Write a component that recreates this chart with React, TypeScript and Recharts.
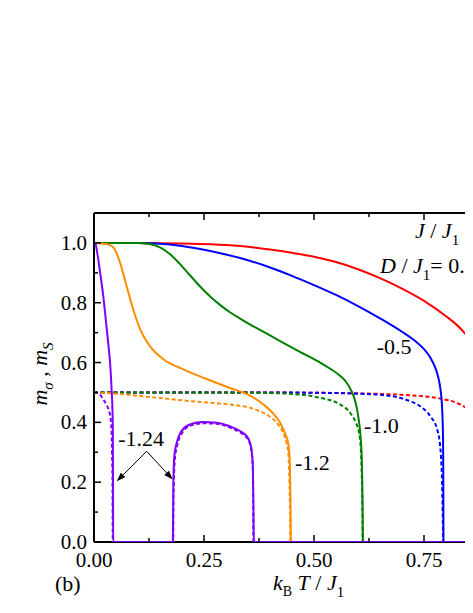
import React from "react";
import { LineChart, Line, XAxis, YAxis, ReferenceDot, ReferenceLine } from "recharts";

const FONT = "'Liberation Serif', 'Times New Roman', serif";

const xTicks = [0, 0.125, 0.25, 0.375, 0.5, 0.625, 0.75, 0.875, 1.0];
const yTicks = [0, 0.1, 0.2, 0.3, 0.4, 0.5, 0.6, 0.7, 0.8, 0.9, 1.0];

const redSolid = [
  [0, 1], [0.1, 1], [0.2, 0.998], [0.3, 0.993], [0.35, 0.987], [0.4, 0.978], [0.45, 0.967],
  [0.5, 0.954], [0.55, 0.936], [0.6, 0.912], [0.65, 0.882], [0.7, 0.847], [0.75, 0.806],
  [0.8, 0.755], [0.83, 0.718], [0.86, 0.665], [0.88, 0.615], [0.9, 0.54], [0.91, 0.45],
  [0.918, 0.3], [0.921, 0],
];
const redDashed = [
  [0, 0.5], [0.3, 0.5], [0.5, 0.499], [0.6, 0.497], [0.7, 0.492], [0.75, 0.487], [0.786, 0.48],
  [0.832, 0.46], [0.861, 0.432], [0.88, 0.4], [0.9, 0.33], [0.912, 0.22], [0.92, 0],
];
const blueSolid = [
  [0, 1], [0.1, 1], [0.143, 0.998], [0.2, 0.99], [0.25, 0.977], [0.3, 0.961], [0.35, 0.942],
  [0.4, 0.918], [0.45, 0.89], [0.5, 0.859], [0.55, 0.826], [0.6, 0.789], [0.65, 0.748],
  [0.7, 0.703], [0.73, 0.672], [0.75, 0.645], [0.765, 0.615], [0.775, 0.585], [0.782, 0.553],
  [0.787, 0.515], [0.79, 0.475], [0.792, 0.42], [0.7932, 0.35], [0.7938, 0.25], [0.7942, 0],
];
const blueDashed = [
  [0, 0.5], [0.4, 0.5], [0.55, 0.498], [0.6, 0.496], [0.65, 0.492], [0.695, 0.482], [0.72, 0.47],
  [0.741, 0.454], [0.764, 0.421], [0.78, 0.376], [0.786, 0.33], [0.789, 0.276], [0.791, 0.2],
  [0.7925, 0.1], [0.7935, 0],
];
const greenSolid = [
  [0, 1], [0.1, 1], [0.127, 0.996], [0.15, 0.985], [0.173, 0.962], [0.195, 0.93], [0.218, 0.892],
  [0.24, 0.856], [0.264, 0.821], [0.287, 0.792], [0.309, 0.768], [0.332, 0.747], [0.355, 0.727],
  [0.39, 0.699], [0.423, 0.672], [0.468, 0.636], [0.514, 0.6], [0.536, 0.58], [0.559, 0.556],
  [0.573, 0.535], [0.582, 0.514], [0.59, 0.488], [0.597, 0.45], [0.602, 0.405], [0.606, 0.35],
  [0.6085, 0.28], [0.6102, 0.15], [0.6112, 0],
];
const greenDashed = [
  [0, 0.5], [0.3, 0.5], [0.4, 0.498], [0.468, 0.493], [0.514, 0.482], [0.559, 0.46], [0.582, 0.432],
  [0.595, 0.399], [0.603, 0.36], [0.606, 0.32], [0.608, 0.25], [0.6095, 0.15], [0.6105, 0],
];
const orangeSolid = [
  [0, 1], [0.02, 0.998], [0.032, 0.995], [0.044, 0.985], [0.052, 0.963], [0.059, 0.935],
  [0.074, 0.856], [0.089, 0.778], [0.105, 0.711], [0.127, 0.655], [0.158, 0.611], [0.203, 0.577],
  [0.256, 0.545], [0.309, 0.515], [0.35, 0.493], [0.385, 0.46], [0.41, 0.425], [0.423, 0.399],
  [0.435, 0.36], [0.442, 0.325], [0.445, 0.265], [0.4465, 0.15], [0.4475, 0],
];
const orangeDashed = [
  [0, 0.5], [0.05, 0.496], [0.105, 0.488], [0.16, 0.48], [0.218, 0.471], [0.28, 0.464],
  [0.332, 0.455], [0.355, 0.449], [0.377, 0.437], [0.395, 0.424], [0.408, 0.41], [0.42, 0.39],
  [0.43, 0.365], [0.437, 0.335], [0.442, 0.29], [0.444, 0.209], [0.4455, 0.1], [0.446, 0],
];
const purpleSolid = [
  [0, 1], [0.003, 0.998], [0.007, 0.97], [0.014, 0.9], [0.021, 0.823], [0.027, 0.74],
  [0.033, 0.655], [0.037, 0.59], [0.04, 0.51], [0.042, 0.44], [0.0428, 0.376], [0.0433, 0.15],
  [0.0436, 0], [0.1792, 0], [0.1798, 0.1], [0.1805, 0.209], [0.1825, 0.287], [0.188, 0.332],
  [0.199, 0.371], [0.218, 0.393], [0.248, 0.401], [0.279, 0.399], [0.309, 0.387], [0.332, 0.371],
  [0.347, 0.354], [0.355, 0.33], [0.358, 0.309], [0.361, 0.253], [0.3625, 0.1], [0.3632, 0], [1, 0],
];
const purpleDashed = [
  [0, 0.5], [0.006, 0.499], [0.015, 0.49], [0.021, 0.477], [0.028, 0.46], [0.033, 0.443],
  [0.038, 0.41], [0.04, 0.365], [0.041, 0.3], [0.042, 0.2], [0.0427, 0], [0.18, 0], [0.1808, 0.15],
  [0.1815, 0.2], [0.184, 0.28], [0.19, 0.328], [0.2, 0.364], [0.218, 0.388], [0.248, 0.397],
  [0.279, 0.395], [0.309, 0.383], [0.332, 0.366], [0.347, 0.349], [0.355, 0.325], [0.358, 0.303],
  [0.3612, 0.24], [0.3622, 0],
];

const toPts = (a: number[][]) => a.map(([t, m]) => ({ t, m }));

const RED = "#ff0000";
const BLUE = "#0000ff";
const GREEN = "#008000";
const ORANGE = "#ff8c00";
const PURPLE = "#8000ff";

const dashedSeries = [
  { data: redDashed, color: RED },
  { data: blueDashed, color: BLUE },
  { data: greenDashed, color: GREEN },
  { data: orangeDashed, color: ORANGE },
  { data: purpleDashed, color: PURPLE },
];
const solidSeries = [
  { data: redSolid, color: RED },
  { data: blueSolid, color: BLUE },
  { data: greenSolid, color: GREEN },
  { data: orangeSolid, color: ORANGE },
  { data: purpleSolid, color: PURPLE },
];

const YTick = (props: any) => {
  const { x, y, payload } = props;
  const v = payload.value;
  const major = Math.round(v * 10) % 2 === 0;
  return (
    <g>
      <line x1={x} y1={y} x2={x + (major ? 7 : 4)} y2={y} stroke="#000" strokeWidth={1.5} />
      {major && (
        <text x={x - 7} y={y} dy={7} textAnchor="end" fontSize={21} fontFamily={FONT} fill="#000">
          {v.toFixed(1)}
        </text>
      )}
    </g>
  );
};

const XTick = (props: any) => {
  const { x, y, payload } = props;
  const v = payload.value;
  const major = Math.round(v * 8) % 2 === 0;
  return (
    <g>
      <line x1={x} y1={y} x2={x} y2={y - (major ? 7 : 4)} stroke="#000" strokeWidth={1.5} />
      {major && v < 0.9 && (
        <text x={x} y={y + 25} textAnchor="middle" fontSize={21} fontFamily={FONT} fill="#000">
          {v.toFixed(2)}
        </text>
      )}
    </g>
  );
};

const TopTick = (props: any) => {
  const { x, y, payload } = props;
  const v = payload.value;
  const major = Math.round(v * 8) % 2 === 0;
  return <line x1={x} y1={y} x2={x} y2={y + (major ? 7 : 4)} stroke="#000" strokeWidth={1.5} />;
};

const annotations = [
  { t: 0.6425, m: 0.6275, text: "-0.5" },
  { t: 0.6136, m: 0.365, text: "-1.0" },
  { t: 0.4568, m: 0.2405, text: "-1.2" },
  { t: 0.0552, m: 0.3226, text: "-1.24" },
];

const arrows = [
  { from: [0.1198, 0.3035], to: [0.0516, 0.203] },
  { from: [0.1198, 0.3035], to: [0.1789, 0.2087] },
];

const ArrowShape = (p: any) => {
  const { x1, y1, x2, y2 } = p;
  const ang = Math.atan2(y2 - y1, x2 - x1);
  const L = 9;
  const W = 3.2;
  const bx = x2 - L * Math.cos(ang);
  const by = y2 - L * Math.sin(ang);
  const lx = bx - W * Math.sin(ang);
  const ly = by + W * Math.cos(ang);
  const rx = bx + W * Math.sin(ang);
  const ry = by - W * Math.cos(ang);
  return (
    <g>
      <line x1={x1} y1={y1} x2={bx} y2={by} stroke="#000" strokeWidth={1} />
      <polygon points={`${x2},${y2} ${lx},${ly} ${rx},${ry}`} fill="#000" />
    </g>
  );
};

export default function App() {
  return (
    <div style={{ position: "relative", width: 465, height: 605, overflow: "hidden", background: "#fff" }}>
      <div style={{ position: "absolute", left: 0, top: 0 }}>
        <LineChart width={536} height={605} margin={{ top: 175, right: 10, bottom: 0, left: 0 }}>
          <XAxis
            xAxisId="b"
            type="number"
            dataKey="t"
            domain={[0, 1]}
            allowDataOverflow
            ticks={xTicks}
            interval={0}
            height={71}
            tickSize={0}
            tickMargin={0}
            tickLine={false}
            axisLine={{ stroke: "#000", strokeWidth: 2 }}
            tick={<XTick />}
          />
          <XAxis
            xAxisId="top"
            orientation="top"
            type="number"
            dataKey="t"
            domain={[0, 1]}
            allowDataOverflow
            ticks={xTicks}
            interval={0}
            height={30}
            tickSize={0}
            tickMargin={0}
            tickLine={false}
            axisLine={{ stroke: "#000", strokeWidth: 2 }}
            tick={<TopTick />}
          />
          <YAxis
            yAxisId="l"
            type="number"
            dataKey="m"
            domain={[0, 1.1]}
            allowDataOverflow
            ticks={yTicks}
            interval={0}
            width={86}
            tickSize={0}
            tickMargin={0}
            tickLine={false}
            axisLine={{ stroke: "#000", strokeWidth: 2 }}
            tick={<YTick />}
          />
          {dashedSeries.map((s, i) => (
            <Line
              key={"d" + i}
              xAxisId="b"
              yAxisId="l"
              data={toPts(s.data)}
              dataKey="m"
              type="monotone"
              stroke={s.color}
              strokeWidth={2}
              strokeDasharray="4 2.5"
              dot={false}
              activeDot={false}
              isAnimationActive={false}
              zIndex={600}
            />
          ))}
          {solidSeries.map((s, i) => (
            <Line
              key={"s" + i}
              xAxisId="b"
              yAxisId="l"
              data={toPts(s.data)}
              dataKey="m"
              type="monotone"
              stroke={s.color}
              strokeWidth={2}
              dot={false}
              activeDot={false}
              isAnimationActive={false}
              zIndex={610}
            />
          ))}
          {annotations.map((a, i) => (
            <ReferenceDot
              key={"a" + i}
              xAxisId="b"
              yAxisId="l"
              x={a.t}
              y={a.m}
              r={0}
              ifOverflow="visible"
              shape={(p: any) => (
                <text x={p.cx} y={p.cy} fontSize={22} fontFamily={FONT} fill="#000">
                  {a.text}
                </text>
              )}
            />
          ))}
          <ReferenceDot
            xAxisId="b"
            yAxisId="l"
            x={0.7295}
            y={1.015}
            r={0}
            ifOverflow="visible"
            shape={(p: any) => (
              <text x={p.cx} y={p.cy} fontSize={22} fontFamily={FONT} fill="#000">
                <tspan fontStyle="italic">J</tspan>
                <tspan>{" / "}</tspan>
                <tspan fontStyle="italic">J</tspan>
                <tspan dy={7} fontSize={15}>1</tspan>
                <tspan dy={-7}>{" ="}</tspan>
              </text>
            )}
          />
          <ReferenceDot
            xAxisId="b"
            yAxisId="l"
            x={0.65}
            y={0.901}
            r={0}
            ifOverflow="visible"
            shape={(p: any) => (
              <text x={p.cx} y={p.cy} fontSize={22} fontFamily={FONT} fill="#000">
                <tspan fontStyle="italic">D</tspan>
                <tspan>{" / "}</tspan>
                <tspan fontStyle="italic">J</tspan>
                <tspan dy={7} fontSize={15}>1</tspan>
                <tspan dy={-7}>{"= 0.0"}</tspan>
              </text>
            )}
          />
          {arrows.map((a, i) => (
            <ReferenceLine
              key={"ar" + i}
              xAxisId="b"
              yAxisId="l"
              segment={[{ x: a.from[0], y: a.from[1] }, { x: a.to[0], y: a.to[1] }]}
              ifOverflow="visible"
              shape={ArrowShape}
            />
          ))}
        </LineChart>
      </div>
      <svg
        width={465}
        height={605}
        style={{ position: "absolute", left: 0, top: 0, pointerEvents: "none" }}
      >
        <text
          x={39}
          y={366}
          transform="rotate(-90, 39, 366)"
          textAnchor="middle"
          fontSize={22}
          fontFamily={FONT}
          fill="#000"
        >
          <tspan fontStyle="italic">m</tspan>
          <tspan dy={6} fontSize={15} fontStyle="italic">σ</tspan>
          <tspan dy={-6}>{" , "}</tspan>
          <tspan fontStyle="italic">m</tspan>
          <tspan dy={6} fontSize={15} fontStyle="italic">S</tspan>
        </text>
        <text x={265} y={582} fontSize={22} fontFamily={FONT} fill="#000">
          <tspan fontStyle="italic">k</tspan>
          <tspan dy={6} fontSize={14}>B</tspan>
          <tspan dy={-6} fontStyle="italic">{" T"}</tspan>
          <tspan>{" / "}</tspan>
          <tspan fontStyle="italic">J</tspan>
          <tspan dy={7} fontSize={15}>1</tspan>
        </text>
        <text x={47} y={583} fontSize={22} fontFamily={FONT} fill="#000">
          (b)
        </text>
      </svg>
    </div>
  );
}
